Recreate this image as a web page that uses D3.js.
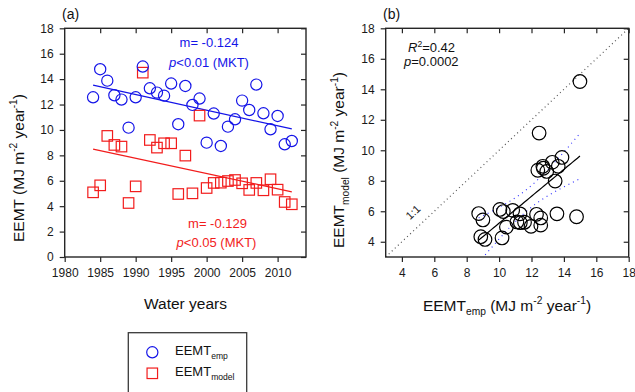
<!DOCTYPE html>
<html>
<head>
<meta charset="utf-8">
<script src="https://cdn.jsdelivr.net/npm/d3@7"></script>
<style>
  html, body { margin: 0; padding: 0; background: #fff; }
  svg { display: block; font-family: "Liberation Sans", Arial, sans-serif; }
</style>
</head>
<body>
<div id="chart"></div>
<script>
// Water years 1984-2012
const years = [1984, 1985, 1986, 1987, 1988, 1989, 1990, 1991, 1992, 1993,
               1994, 1995, 1996, 1997, 1998, 1999, 2000, 2001, 2002, 2003,
               2004, 2005, 2006, 2007, 2008, 2009, 2010, 2011, 2012];

// EEMT empirical (blue circles)
const eemtEmp = [12.57, 14.78, 13.88, 12.73, 12.39, 10.18, 12.57, 14.99, 13.28, 12.94,
                 12.70, 13.65, 10.45, 13.46, 11.97, 12.47, 9.00, 11.29, 8.74, 10.26,
                 10.84, 12.31, 11.57, 13.57, 11.31, 10.05, 11.10, 8.87, 9.13];

// EEMT model (red squares)
const eemtModel = [5.09, 5.64, 9.53, 8.82, 8.69, 4.25, 5.56, 14.51, 9.21, 8.61,
                   8.95, 8.95, 4.96, 7.98, 5.01, 11.13, 5.43, 5.83, 5.85, 5.98,
                   6.06, 5.80, 5.28, 5.83, 5.25, 6.12, 5.30, 4.33, 4.15];

// trend lines (MKT), values at first / last year
const trendYears = [1984, 2012];
const empTrend = [13.52, 10.08];
const modelTrend = [8.49, 5.13];

// tick values
const yearTicks = [1980, 1985, 1990, 1995, 2000, 2005, 2010];
const eemtTicks = [0, 2, 4, 6, 8, 10, 12, 14, 16, 18];
const scatterTicks = [4, 6, 8, 10, 12, 14, 16, 18];
const oneToOne = [3, 18];

const BLUE = '#1414e8';
const RED = '#f21c1c';
const AXIS = '#262626';

const width = 635, height = 392;

const svg = d3.select('#chart').append('svg')
    .attr('width', width)
    .attr('height', height);

// text with sub/superscripts
function richText(sel, parts, size) {
    let shift = 0;
    parts.forEach(p => {
        const target = p.sub ? size * 0.32 : p.sup ? -size * 0.42 : 0;
        sel.append('tspan')
            .attr('dy', target - shift)
            .attr('font-size', (p.sub || p.sup) ? size * 0.66 : size)
            .attr('font-style', p.italic ? 'italic' : null)
            .text(p.t);
        shift = target;
    });
}

function frame(g, x, y, xTop, yRight, xBottom, yLeft) {
    const [x0, x1] = x.range();
    const [y0, y1] = y.range();

    g.append('g')
        .attr('transform', `translate(0,${y0})`)
        .call(xBottom)
        .call(s => s.select('.domain').remove());
    g.append('g')
        .attr('transform', `translate(0,${y1})`)
        .call(xTop)
        .call(s => s.select('.domain').remove())
        .call(s => s.selectAll('text').remove());
    g.append('g')
        .attr('transform', `translate(${x0},0)`)
        .call(yLeft)
        .call(s => s.select('.domain').remove());
    g.append('g')
        .attr('transform', `translate(${x1},0)`)
        .call(yRight)
        .call(s => s.select('.domain').remove())
        .call(s => s.selectAll('text').remove());

    g.selectAll('.tick line').attr('stroke', AXIS).attr('stroke-width', 1.2);
    g.selectAll('.tick text')
        .attr('fill', '#1a1a1a')
        .attr('font-size', 12)
        .attr('font-family', '"Liberation Sans", Arial, sans-serif');

    g.append('rect')
        .attr('x', x0).attr('y', y1)
        .attr('width', x1 - x0).attr('height', y0 - y1)
        .attr('fill', 'none')
        .attr('stroke', AXIS)
        .attr('stroke-width', 1.4);
}

// ---------------- Panel (a) ----------------
const xa = d3.scaleLinear().domain([1980, 2014]).range([64.7, 306]);
const ya = d3.scaleLinear().domain([0, 18]).range([257, 28.3]);

const ga = svg.append('g');

// trend lines
const trendLine = d3.line().x(d => xa(d[0])).y(d => ya(d[1]));
ga.append('path')
    .datum(d3.zip(trendYears, empTrend))
    .attr('d', trendLine)
    .attr('stroke', BLUE).attr('stroke-width', 1.3).attr('fill', 'none');
ga.append('path')
    .datum(d3.zip(trendYears, modelTrend))
    .attr('d', trendLine)
    .attr('stroke', RED).attr('stroke-width', 1.3).attr('fill', 'none');

// model squares
const sq = 10.5;
ga.selectAll('rect.model')
    .data(d3.zip(years, eemtModel))
    .join('rect')
    .attr('class', 'model')
    .attr('x', d => xa(d[0]) - sq / 2)
    .attr('y', d => ya(d[1]) - sq / 2)
    .attr('width', sq).attr('height', sq)
    .attr('fill', 'none')
    .attr('stroke', RED).attr('stroke-width', 1.2);

// empirical circles
ga.selectAll('circle.emp')
    .data(d3.zip(years, eemtEmp))
    .join('circle')
    .attr('class', 'emp')
    .attr('cx', d => xa(d[0]))
    .attr('cy', d => ya(d[1]))
    .attr('r', 5.6)
    .attr('fill', 'none')
    .attr('stroke', BLUE).attr('stroke-width', 1.2);

frame(ga, xa, ya,
    d3.axisBottom(xa).tickValues(yearTicks.slice(1)).tickSize(5).tickSizeOuter(0),
    d3.axisLeft(ya).tickValues(eemtTicks).tickSize(5).tickSizeOuter(0),
    d3.axisBottom(xa).tickValues(yearTicks).tickFormat(d3.format('d')).tickSize(5).tickPadding(6).tickSizeOuter(0),
    d3.axisLeft(ya).tickValues(eemtTicks).tickSize(5).tickPadding(6).tickSizeOuter(0));

// annotations
ga.append('text').attr('x', 209).attr('y', 47)
    .attr('text-anchor', 'middle').attr('fill', BLUE).attr('font-size', 13)
    .text('m= -0.124');
richText(ga.append('text').attr('x', 209).attr('y', 67)
    .attr('text-anchor', 'middle').attr('fill', BLUE),
    [{ t: 'p', italic: true }, { t: '<0.01 (MKT)' }], 13);

ga.append('text').attr('x', 217.5).attr('y', 228)
    .attr('text-anchor', 'middle').attr('fill', RED).attr('font-size', 13)
    .text('m= -0.129');
richText(ga.append('text').attr('x', 216.5).attr('y', 246.5)
    .attr('text-anchor', 'middle').attr('fill', RED),
    [{ t: 'p', italic: true }, { t: '<0.05 (MKT)' }], 13);

ga.append('text').attr('x', 62).attr('y', 19)
    .attr('font-size', 14).attr('fill', '#111').text('(a)');

ga.append('text').attr('x', 185.5).attr('y', 308.5)
    .attr('text-anchor', 'middle').attr('font-size', 15.5).attr('fill', '#111')
    .text('Water years');

richText(ga.append('text')
    .attr('transform', 'translate(23.5,168) rotate(-90)')
    .attr('text-anchor', 'middle').attr('fill', '#111'),
    [{ t: 'EEMT (MJ m' }, { t: '-2', sup: true }, { t: ' year' }, { t: '-1', sup: true }, { t: ')' }], 15.5);

// ---------------- Panel (b) ----------------
const xb = d3.scaleLinear().domain([3, 18]).range([385.7, 628.7]);
const yb = d3.scaleLinear().domain([3, 18]).range([257, 28.3]);

const gb = svg.append('g');

svg.append('defs').append('clipPath').attr('id', 'clipB')
    .append('rect')
    .attr('x', 385.7).attr('y', 28.3)
    .attr('width', 243).attr('height', 228.7);

const plotB = gb.append('g').attr('clip-path', 'url(#clipB)');

// 1:1 line
plotB.append('line')
    .attr('x1', xb(oneToOne[0])).attr('y1', yb(oneToOne[0]))
    .attr('x2', xb(oneToOne[1])).attr('y2', yb(oneToOne[1]))
    .attr('stroke', '#555').attr('stroke-width', 1.2)
    .attr('stroke-dasharray', '1,3.2');

// linear regression model ~ emp with 95% confidence band
const pairs = d3.zip(eemtEmp, eemtModel);
const n = pairs.length;
const mx = d3.mean(eemtEmp), my = d3.mean(eemtModel);
const sxx = d3.sum(eemtEmp, v => (v - mx) ** 2);
const sxy = d3.sum(pairs, d => (d[0] - mx) * (d[1] - my));
const slope = sxy / sxx;
const intercept = my - slope * mx;
const sse = d3.sum(pairs, d => (d[1] - (intercept + slope * d[0])) ** 2);
const se = Math.sqrt(sse / (n - 2));
const tcrit = 2.052; // t(0.975, 27)

const [xmin, xmax] = d3.extent(eemtEmp);
const xs = d3.range(0, 41).map(i => xmin + (xmax - xmin) * i / 40);
const band = xs.map(xv => {
    const fit = intercept + slope * xv;
    const half = tcrit * se * Math.sqrt(1 / n + (xv - mx) ** 2 / sxx);
    return { x: xv, fit, lo: fit - half, hi: fit + half };
});

const bl = key => d3.line().x(d => xb(d.x)).y(d => yb(d[key]));
['lo', 'hi'].forEach(k => {
    plotB.append('path')
        .datum(band)
        .attr('d', bl(k))
        .attr('fill', 'none')
        .attr('stroke', '#2a2aff').attr('stroke-width', 1.1)
        .attr('stroke-dasharray', '1,4');
});
plotB.append('path')
    .datum(band)
    .attr('d', bl('fit'))
    .attr('fill', 'none')
    .attr('stroke', '#000').attr('stroke-width', 1.2);

plotB.selectAll('circle.pt')
    .data(pairs)
    .join('circle')
    .attr('class', 'pt')
    .attr('cx', d => xb(d[0]))
    .attr('cy', d => yb(d[1]))
    .attr('r', 6.8)
    .attr('fill', 'none')
    .attr('stroke', '#000').attr('stroke-width', 1.2);

frame(gb, xb, yb,
    d3.axisBottom(xb).tickValues(scatterTicks).tickSize(5).tickSizeOuter(0),
    d3.axisLeft(yb).tickValues(scatterTicks).tickSize(5).tickSizeOuter(0),
    d3.axisBottom(xb).tickValues(scatterTicks).tickSize(5).tickPadding(6).tickSizeOuter(0),
    d3.axisLeft(yb).tickValues(scatterTicks).tickSize(5).tickPadding(6).tickSizeOuter(0));

// 1:1 label
gb.append('text')
    .attr('transform', `translate(${xb(4.85)},${yb(5.75)}) rotate(-43)`)
    .attr('text-anchor', 'middle').attr('font-size', 11).attr('fill', '#222')
    .text('1:1');

richText(gb.append('text').attr('x', 408).attr('y', 52).attr('fill', '#111'),
    [{ t: 'R', italic: true }, { t: '2', sup: true }, { t: '=0.42' }], 13);
richText(gb.append('text').attr('x', 404).attr('y', 66).attr('fill', '#111'),
    [{ t: 'p', italic: true }, { t: '=0.0002' }], 13);

gb.append('text').attr('x', 383).attr('y', 19)
    .attr('font-size', 14).attr('fill', '#111').text('(b)');

richText(gb.append('text').attr('x', 507).attr('y', 310.5)
    .attr('text-anchor', 'middle').attr('fill', '#111'),
    [{ t: 'EEMT' }, { t: 'emp', sub: true }, { t: ' (MJ m' }, { t: '-2', sup: true }, { t: ' year' }, { t: '-1', sup: true }, { t: ')' }], 15.5);

richText(gb.append('text')
    .attr('transform', 'translate(344,160) rotate(-90)')
    .attr('text-anchor', 'middle').attr('fill', '#111'),
    [{ t: 'EEMT' }, { t: 'model', sub: true }, { t: ' (MJ m' }, { t: '-2', sup: true }, { t: ' year' }, { t: '-1', sup: true }, { t: ')' }], 15.5);

// ---------------- Legend ----------------
const lg = svg.append('g');
lg.append('rect')
    .attr('x', 128.3).attr('y', 332.7)
    .attr('width', 118.4).attr('height', 80)
    .attr('fill', '#fff')
    .attr('stroke', '#3a3a3a').attr('stroke-width', 1.3);

lg.append('circle')
    .attr('cx', 152.3).attr('cy', 352.3).attr('r', 5.6)
    .attr('fill', 'none').attr('stroke', BLUE).attr('stroke-width', 1.2);
lg.append('rect')
    .attr('x', 152.3 - sq / 2).attr('y', 373.3 - sq / 2)
    .attr('width', sq).attr('height', sq)
    .attr('fill', 'none').attr('stroke', RED).attr('stroke-width', 1.2);

richText(lg.append('text').attr('x', 175).attr('y', 355).attr('fill', '#111'),
    [{ t: 'EEMT' }, { t: 'emp', sub: true }], 13);
richText(lg.append('text').attr('x', 175).attr('y', 376).attr('fill', '#111'),
    [{ t: 'EEMT' }, { t: 'model', sub: true }], 13);
</script>
</body>
</html>
